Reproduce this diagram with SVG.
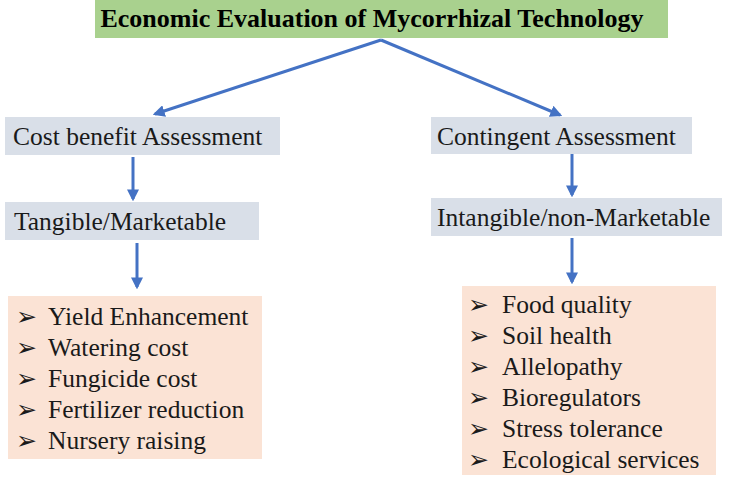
<svg xmlns="http://www.w3.org/2000/svg" width="730" height="480" viewBox="0 0 730 480">
<defs>
<style>
.grey{fill:#d9dfe8}
.peach{fill:#fbe3d5}
.arr{stroke:#4472c4;stroke-width:3;fill:none}
</style>
<marker id="ah" viewBox="0 0 10 10" refX="8" refY="5" markerWidth="4" markerHeight="4" orient="auto" markerUnits="strokeWidth">
<path d="M0,0 L10,5 L0,10 z" fill="#4472c4"/>
</marker>
</defs>
<rect width="730" height="480" fill="#fff"/>
<g id="title">
<rect x="95" y="0" width="573" height="38" fill="#a9d18e"/>
<text x="372" y="27" text-anchor="middle" font-family="Liberation Serif, serif" font-size="26" font-weight="bold" fill="#000">Economic Evaluation of Mycorrhizal Technology</text>
</g>
<g id="cost">
<rect class="grey" x="5" y="117" width="275" height="38"/>
<text font-family="Liberation Serif, serif" font-size="25.5" fill="#1a1a1a" x="13" y="145">Cost benefit Assessment</text>
</g>
<g id="contingent">
<rect class="grey" x="431" y="117" width="261" height="37"/>
<text font-family="Liberation Serif, serif" font-size="25.5" fill="#1a1a1a" x="437" y="145">Contingent Assessment</text>
</g>
<g id="tangible">
<rect class="grey" x="5" y="202" width="254" height="38"/>
<text font-family="Liberation Serif, serif" font-size="25.5" fill="#1a1a1a" x="14" y="230">Tangible/Marketable</text>
</g>
<g id="intangible">
<rect class="grey" x="431" y="198" width="291" height="38"/>
<text font-family="Liberation Serif, serif" font-size="25.5" fill="#1a1a1a" x="437" y="226">Intangible/non-Marketable</text>
</g>
<g id="tangible-list">
<rect class="peach" x="8" y="296" width="254" height="163"/>
<g font-family="DejaVu Sans, sans-serif" font-size="25" fill="#1a1a1a"><text x="16" y="325">➢</text><text x="16" y="356">➢</text><text x="16" y="387">➢</text><text x="16" y="418">➢</text><text x="16" y="449">➢</text></g>
<g font-family="Liberation Serif, serif" font-size="25.5" fill="#1a1a1a">
<text x="48" y="325">Yield Enhancement</text>
<text x="48" y="356">Watering cost</text>
<text x="48" y="387">Fungicide cost</text>
<text x="48" y="418">Fertilizer reduction</text>
<text x="48" y="449">Nursery raising</text>
</g>
</g>
<g id="intangible-list">
<rect class="peach" x="462" y="286" width="254" height="189"/>
<g font-family="DejaVu Sans, sans-serif" font-size="25" fill="#1a1a1a"><text x="468" y="313">➢</text><text x="468" y="344">➢</text><text x="468" y="375">➢</text><text x="468" y="406">➢</text><text x="468" y="437">➢</text><text x="468" y="468">➢</text></g>
<g font-family="Liberation Serif, serif" font-size="25.5" fill="#1a1a1a">
<text x="502" y="313">Food quality</text>
<text x="502" y="344">Soil health</text>
<text x="502" y="375">Allelopathy</text>
<text x="502" y="406">Bioregulators</text>
<text x="502" y="437">Stress tolerance</text>
<text x="502" y="468">Ecological services</text>
</g>
</g>
<g id="connectors">
<line class="arr" marker-end="url(#ah)" x1="381" y1="40" x2="155" y2="114"/>
<line class="arr" marker-end="url(#ah)" x1="381" y1="40" x2="560" y2="115"/>
<line class="arr" marker-end="url(#ah)" x1="133" y1="157" x2="133" y2="199"/>
<line class="arr" marker-end="url(#ah)" x1="137" y1="243" x2="137" y2="287"/>
<line class="arr" marker-end="url(#ah)" x1="572" y1="154" x2="572" y2="195"/>
<line class="arr" marker-end="url(#ah)" x1="572" y1="238" x2="572" y2="282"/>
</g>
</svg>
